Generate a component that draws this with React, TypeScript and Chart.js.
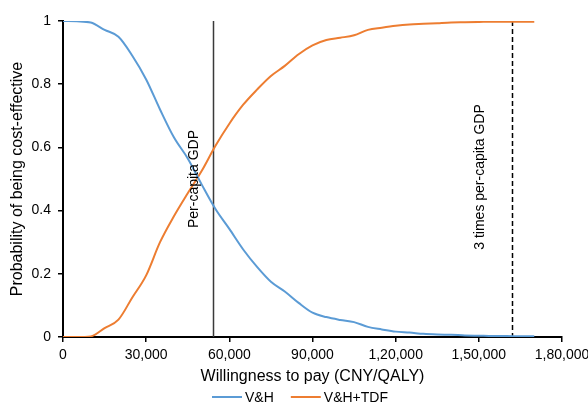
import React, { useEffect, useRef } from 'react';
import { Chart, registerables } from 'chart.js';

Chart.register(...registerables);

// Willingness-to-pay grid (CNY/QALY)
const wtp = [
  0, 5000, 10000, 15000, 20000, 25000, 30000, 35000, 40000, 45000, 50000, 55000,
  60000, 65000, 70000, 75000, 80000, 85000, 90000, 95000, 100000, 105000, 110000,
  115000, 120000, 125000, 130000, 135000, 140000, 145000, 150000, 155000, 160000,
  165000, 170000,
];

// Probability of being cost-effective: V&H
const vh = [
  1.0, 0.999, 0.995, 0.972, 0.95, 0.89, 0.815, 0.72, 0.632, 0.565, 0.483, 0.405,
  0.342, 0.277, 0.222, 0.175, 0.144, 0.108, 0.077, 0.063, 0.054, 0.047, 0.032,
  0.024, 0.017, 0.014, 0.01, 0.008, 0.007, 0.005, 0.004, 0.003, 0.003, 0.002,
  0.002,
];

// Probability of being cost-effective: V&H+TDF
const vhTdf = [
  0.0, 0.0, 0.002, 0.028, 0.055, 0.125, 0.195, 0.3, 0.382, 0.455, 0.525, 0.605,
  0.675, 0.735, 0.783, 0.826, 0.858, 0.895, 0.923, 0.94, 0.947, 0.955, 0.972,
  0.979, 0.985, 0.989, 0.991, 0.993, 0.995, 0.996, 0.997, 0.998, 0.998, 0.998,
  0.998,
];

const seriesLabels = ['V&H', 'V&H+TDF'];
const seriesColors = ['#5B9BD5', '#ED7D31'];

const xMin = 0;
const xMax = 180000;
const xStep = 30000;
const yMin = 0;
const yMax = 1;
const yStep = 0.2;

const gdpPerCapita = 54000;
const gdpTimes3 = 162000;
const refLabels = ['Per-capita GDP', '3 times per-capita GDP'];

const xTitle = 'Willingness to pay (CNY/QALY)';
const yTitle = 'Probability of being cost-effective';

const FONT = "'Liberation Sans', Arial, Helvetica, sans-serif";

function formatIndian(v: number): string {
  const s = Math.round(v).toString();
  if (s.length <= 3) return s;
  const last3 = s.slice(-3);
  let rest = s.slice(0, -3);
  const parts: string[] = [];
  while (rest.length > 2) {
    parts.unshift(rest.slice(-2));
    rest = rest.slice(0, -2);
  }
  if (rest) parts.unshift(rest);
  return parts.join(',') + ',' + last3;
}

const refPlugin = {
  id: 'refLines',
  beforeDatasetsDraw(chart: any) {
    const { ctx, chartArea, scales } = chart;
    const x = scales.x;
    ctx.save();
    const x1 = Math.round(x.getPixelForValue(gdpPerCapita)) + 0.5;
    ctx.strokeStyle = '#3a3a3a';
    ctx.lineWidth = 1.5;
    ctx.setLineDash([]);
    ctx.beginPath();
    ctx.moveTo(x1, chartArea.top);
    ctx.lineTo(x1, chartArea.bottom);
    ctx.stroke();
    const x2 = Math.round(x.getPixelForValue(gdpTimes3)) + 0.5;
    ctx.strokeStyle = '#000';
    ctx.lineWidth = 1.5;
    ctx.setLineDash([5, 3]);
    ctx.beginPath();
    ctx.moveTo(x2, chartArea.top);
    ctx.lineTo(x2, chartArea.bottom);
    ctx.stroke();
    ctx.restore();
  },
  afterDatasetsDraw(chart: any) {
    const { ctx, chartArea, scales } = chart;
    const x = scales.x;
    const cy = (chartArea.top + chartArea.bottom) / 2;
    ctx.save();
    ctx.fillStyle = '#000';
    ctx.font = `14px ${FONT}`;
    ctx.textAlign = 'center';
    ctx.textBaseline = 'alphabetic';
    const items = [
      { v: gdpPerCapita, off: 15, label: refLabels[0], dy: 0 },
      { v: gdpTimes3, off: 28, label: refLabels[1], dy: -2 },
    ];
    items.forEach((it) => {
      const px = x.getPixelForValue(it.v) - it.off;
      ctx.save();
      ctx.translate(px, cy + it.dy);
      ctx.rotate(-Math.PI / 2);
      ctx.fillText(it.label, 0, 0);
      ctx.restore();
    });
    ctx.restore();
  },
  afterDraw(chart: any) {
    const { ctx } = chart;
    ctx.save();
    ctx.font = `14px ${FONT}`;
    const lineLen = 30;
    const gapText = 3;
    const gapItem = 17;
    const widths = seriesLabels.map((l) => ctx.measureText(l).width);
    const total =
      widths.reduce((a: number, w: number) => a + lineLen + gapText + w, 0) +
      gapItem * (seriesLabels.length - 1);
    let sx = chart.width / 2 + 6 - total / 2;
    const ly = chart.height - 7;
    seriesLabels.forEach((l, i) => {
      ctx.strokeStyle = seriesColors[i];
      ctx.lineWidth = 2;
      ctx.beginPath();
      ctx.moveTo(sx, ly);
      ctx.lineTo(sx + lineLen, ly);
      ctx.stroke();
      ctx.fillStyle = '#000';
      ctx.textAlign = 'left';
      ctx.textBaseline = 'alphabetic';
      ctx.fillText(l, sx + lineLen + gapText, chart.height - 2);
      sx += lineLen + gapText + widths[i] + gapItem;
    });
    ctx.restore();
  },
};

export default function App() {
  const canvasRef = useRef<HTMLCanvasElement | null>(null);

  useEffect(() => {
    if (!canvasRef.current) return;
    Chart.defaults.font.family = FONT;
    Chart.defaults.color = '#000';
    const chart = new Chart(canvasRef.current, {
      type: 'line',
      data: {
        datasets: [
          {
            label: seriesLabels[0],
            data: wtp.map((x, i) => ({ x, y: vh[i] })),
            borderColor: seriesColors[0],
            backgroundColor: seriesColors[0],
            borderWidth: 2,
            pointRadius: 0,
            cubicInterpolationMode: 'monotone',
          },
          {
            label: seriesLabels[1],
            data: wtp.map((x, i) => ({ x, y: vhTdf[i] })),
            borderColor: seriesColors[1],
            backgroundColor: seriesColors[1],
            borderWidth: 2,
            pointRadius: 0,
            cubicInterpolationMode: 'monotone',
          },
        ],
      },
      options: {
        animation: false,
        responsive: false,
        devicePixelRatio: 1,
        layout: { padding: { top: 21, right: 26, bottom: 18, left: 0 } },
        plugins: {
          legend: { display: false },
          tooltip: { enabled: false },
        },
        scales: {
          x: {
            type: 'linear',
            min: xMin,
            max: xMax,
            grid: {
              drawOnChartArea: false,
              drawTicks: true,
              tickLength: 5,
              color: '#000',
              lineWidth: 1.5,
            },
            border: { display: true, color: '#000', width: 2 },
            ticks: {
              stepSize: xStep,
              autoSkip: false,
              maxRotation: 0,
              padding: 5,
              font: { size: 14, family: FONT },
              color: '#000',
              callback: (v: any) => formatIndian(Number(v)),
            },
            title: {
              display: true,
              text: xTitle,
              font: { size: 16, family: FONT },
              color: '#000',
              padding: { top: 4, bottom: 0 },
            },
            afterFit: (scale: any) => {
              scale.height = 49;
              scale.paddingLeft = 0;
              scale.paddingRight = 0;
            },
          },
          y: {
            type: 'linear',
            min: yMin,
            max: yMax,
            grid: {
              drawOnChartArea: false,
              drawTicks: true,
              tickLength: 5,
              color: '#000',
              lineWidth: 1.5,
            },
            border: { display: true, color: '#000', width: 2 },
            ticks: {
              stepSize: yStep,
              padding: 7,
              font: { size: 14, family: FONT },
              color: '#000',
              callback: (v: any) => String(Number(Number(v).toFixed(1))),
            },
            title: {
              display: true,
              text: yTitle,
              font: { size: 16, family: FONT },
              color: '#000',
              padding: { top: 8, bottom: 0 },
            },
            afterFit: (scale: any) => {
              scale.width = 63;
            },
          },
        },
      },
      plugins: [refPlugin],
    } as any);
    return () => chart.destroy();
  }, []);

  return (
    <div style={{ position: 'absolute', left: 0, top: 0, width: 588, height: 404, background: '#fff' }}>
      <canvas ref={canvasRef} width={588} height={404} />
    </div>
  );
}
